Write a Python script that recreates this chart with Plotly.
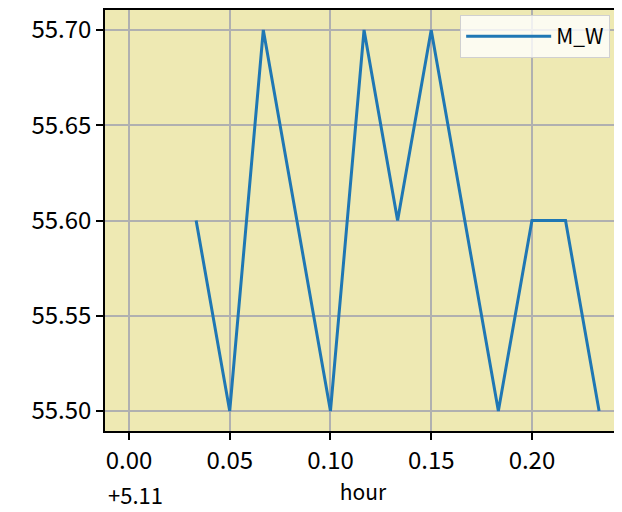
import plotly.graph_objects as go

hours = [5.14333, 5.16, 5.17667, 5.21, 5.22667, 5.24333, 5.26, 5.29333, 5.31, 5.32667, 5.34333]
m_w = [55.6, 55.5, 55.7, 55.5, 55.7, 55.6, 55.7, 55.5, 55.6, 55.6, 55.5]
x_offset = 5.11
x_tick_offsets = [0.00, 0.05, 0.10, 0.15, 0.20]
x_tick_labels = ["0.00", "0.05", "0.10", "0.15", "0.20"]
y_ticks = [55.50, 55.55, 55.60, 55.65, 55.70]
y_tick_labels = ["55.50", "55.55", "55.60", "55.65", "55.70"]

FONT = "Noto Sans CJK JP"
FS = 24

fig = go.Figure()
fig.add_trace(go.Scatter(x=hours, y=m_w, mode="lines", name="M_W",
                         line=dict(color="#1f77b4", width=3)))

axis_common = dict(
    ticks="outside", ticklen=7, tickwidth=1.5, tickcolor="black",
    showgrid=True, gridcolor="#b0b0b0", gridwidth=1.5,
    showline=True, linecolor="black", linewidth=1.5, mirror=True,
    zeroline=False, automargin=False,
    tickfont=dict(family=FONT, size=FS, color="black"),
)

fig.update_layout(
    width=614, height=504,
    margin=dict(l=97, r=1, t=2, b=81),
    paper_bgcolor="white",
    plot_bgcolor="#eee9b3",
    font=dict(family=FONT, size=FS, color="black"),
    showlegend=True,
    legend=dict(x=0.979, y=0.988, xanchor="right", yanchor="top",
                bgcolor="rgba(255,255,255,0.8)", bordercolor="#d0d0d0", borderwidth=1,
                itemwidth=85, font=dict(family=FONT, size=21)),
    xaxis=dict(range=[x_offset - 0.0119, x_offset + 0.2442],
               tickvals=[x_offset + v for v in x_tick_offsets], ticktext=x_tick_labels,
               title=dict(text="hour", font=dict(family=FONT, size=21), standoff=8),
               **axis_common),
    yaxis=dict(range=[55.4895, 55.7105],
               tickvals=y_ticks, ticktext=y_tick_labels,
               **axis_common),
)
fig.add_annotation(text="+5.11", xref="paper", yref="paper", x=0.004, y=-0.1496,
                   xanchor="left", yanchor="middle", showarrow=False, borderpad=0,
                   font=dict(family=FONT, size=22, color="black"))

fig.write_html("out.html")
